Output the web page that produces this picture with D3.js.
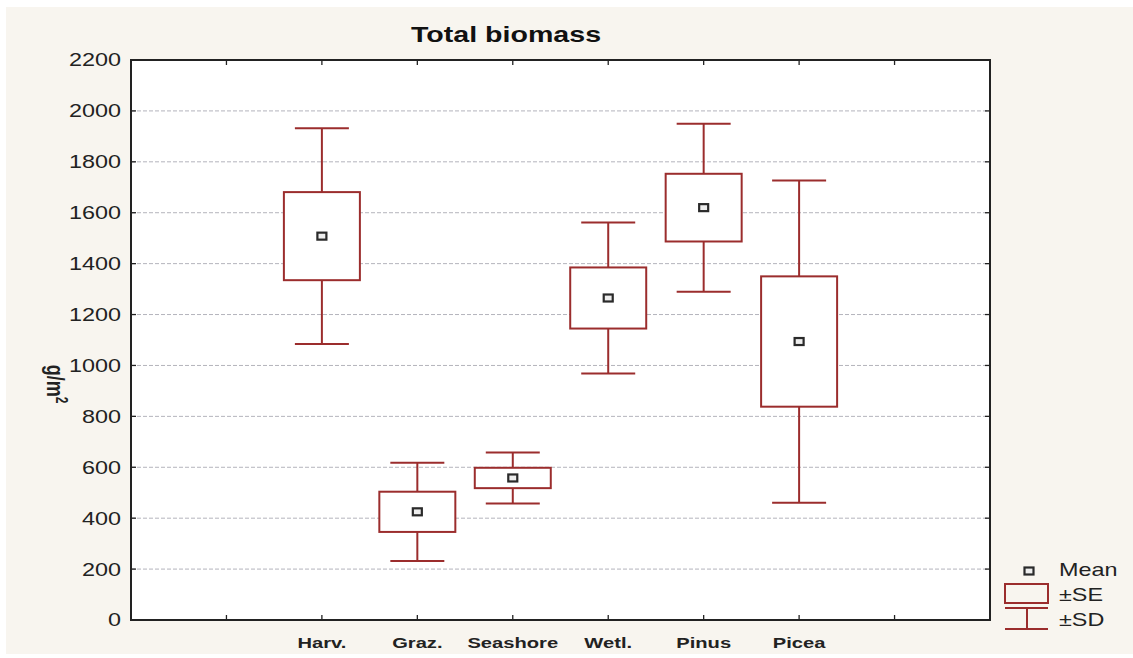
<!DOCTYPE html>
<html><head><meta charset="utf-8">
<script src="https://cdn.jsdelivr.net/npm/d3@7"></script>
<style>
html,body{margin:0;padding:0;background:#fff;}
svg{display:block;font-family:"Liberation Sans",Arial,sans-serif;}
</style></head>
<body>
<script>
const categories = ["Harv.","Graz.","Seashore","Wetl.","Pinus","Picea"];
const means = [1508, 425, 558, 1265, 1620, 1094];
const se = [173, 79, 40, 120, 133, 256];
const sd = [424, 193, 100, 297, 330, 633];
const yTicks = [0,200,400,600,800,1000,1200,1400,1600,1800,2000,2200];
const legendLabels = ["Mean","\u00B1SE","\u00B1SD"];

const W = 1133, H = 658;
const SX = 1.3; // horizontal text stretch of the reference
const boxColor = "#9b2d2d";
const svg = d3.select("body").append("svg").attr("width", W).attr("height", H);
svg.append("rect").attr("x",6).attr("y",7).attr("width",W-6).attr("height",647).attr("fill","#f8f5ef");

const L = 131, R = 990, T = 60, B = 620;
svg.append("rect").attr("x",L).attr("y",T).attr("width",R-L).attr("height",B-T).attr("fill","#fff");

const y = d3.scaleLinear().domain([0,2200]).range([B,T]);
const xPos = d3.scaleLinear().domain([0,9]).range([L,R]);      // category positions / ticks

// gridlines
svg.append("g").selectAll("line").data(yTicks.filter(v=>v>0 && v<2200)).join("line")
  .attr("x1",L).attr("x2",R).attr("y1",d=>y(d)).attr("y2",d=>y(d))
  .attr("stroke","#b4b4bc").attr("stroke-width",1).attr("stroke-dasharray","4,2");

// ticks
const tk = svg.append("g").attr("stroke","#222").attr("stroke-width",1.3);
yTicks.forEach(v=>{
  tk.append("line").attr("x1",L).attr("x2",L+5).attr("y1",y(v)).attr("y2",y(v));
  tk.append("line").attr("x1",R).attr("x2",R-5).attr("y1",y(v)).attr("y2",y(v));
});
d3.range(1,9).forEach(i=>{
  tk.append("line").attr("x1",xPos(i)).attr("x2",xPos(i)).attr("y1",T).attr("y2",T+5);
  tk.append("line").attr("x1",xPos(i)).attr("x2",xPos(i)).attr("y1",B).attr("y2",B-5);
});

// frame
svg.append("rect").attr("x",L).attr("y",T).attr("width",R-L).attr("height",B-T)
  .attr("fill","none").attr("stroke","#222").attr("stroke-width",2);

// y tick labels
svg.append("g").selectAll("g").data(yTicks).join("g")
  .attr("transform",d=>`translate(121,${y(d)}) scale(${SX},1)`)
  .append("text").attr("text-anchor","end").attr("dy","0.36em")
  .attr("font-size",18).attr("fill","#222").text(d=>d);

// x labels
svg.append("g").selectAll("g").data(categories).join("g")
  .attr("transform",(d,i)=>`translate(${xPos(i+2)},648) scale(${SX},1)`)
  .append("text").attr("text-anchor","middle").attr("font-size",15.5).attr("font-weight","bold")
  .attr("fill","#222").text(d=>d);

// title
svg.append("g").attr("transform",`translate(506,42) scale(${SX},1)`)
  .append("text").attr("text-anchor","middle").attr("font-size",22).attr("font-weight","bold")
  .attr("fill","#111").text("Total biomass");

// y axis title
const yt = svg.append("g").attr("transform",`translate(47,384) scale(${SX},1) rotate(90)`)
  .append("text").attr("text-anchor","middle").attr("font-size",18).attr("font-weight","bold").attr("fill","#222");
yt.append("tspan").text("g/m");
yt.append("tspan").attr("dy",-7).attr("font-size",12).text("2");

// boxes
const boxW = 76, capW = 54;
const g = svg.append("g").attr("stroke",boxColor).attr("stroke-width",2).attr("fill","none");
categories.forEach((c,i)=>{
  const cx = xPos(i+2);
  const m = means[i];
  g.append("line").attr("x1",cx).attr("x2",cx).attr("y1",y(m+sd[i])).attr("y2",y(m+se[i]));
  g.append("line").attr("x1",cx).attr("x2",cx).attr("y1",y(m-se[i])).attr("y2",y(m-sd[i]));
  g.append("line").attr("x1",cx-capW/2).attr("x2",cx+capW/2).attr("y1",y(m+sd[i])).attr("y2",y(m+sd[i]));
  g.append("line").attr("x1",cx-capW/2).attr("x2",cx+capW/2).attr("y1",y(m-sd[i])).attr("y2",y(m-sd[i]));
  g.append("rect").attr("x",cx-boxW/2).attr("y",y(m+se[i])).attr("width",boxW)
    .attr("height",y(m-se[i])-y(m+se[i])).attr("fill","#fff");
  svg.append("rect").attr("x",cx-4.5).attr("y",y(m)-3.5).attr("width",9).attr("height",7)
    .attr("fill","#eeeeee").attr("stroke","#2a2a2a").attr("stroke-width",2.2);
});

// legend
const lg = svg.append("g");
lg.append("rect").attr("x",1029-4.5).attr("y",571-3.5).attr("width",9).attr("height",7)
  .attr("fill","#eeeeee").attr("stroke","#2a2a2a").attr("stroke-width",2.2);
lg.append("rect").attr("x",1005).attr("y",584).attr("width",43).attr("height",19)
  .attr("fill","none").attr("stroke",boxColor).attr("stroke-width",2);
lg.append("line").attr("x1",1005).attr("x2",1048).attr("y1",608).attr("y2",608).attr("stroke",boxColor).attr("stroke-width",2);
lg.append("line").attr("x1",1005).attr("x2",1048).attr("y1",629).attr("y2",629).attr("stroke",boxColor).attr("stroke-width",2);
lg.append("line").attr("x1",1027).attr("x2",1027).attr("y1",608).attr("y2",629).attr("stroke",boxColor).attr("stroke-width",2);
const ly = [570,595,620];
legendLabels.forEach((t,i)=>{
  lg.append("g").attr("transform",`translate(1059,${ly[i]}) scale(${SX},1)`)
    .append("text").attr("dy","0.36em").attr("font-size",18).attr("fill","#222").text(t);
});
</script>
</body></html>
